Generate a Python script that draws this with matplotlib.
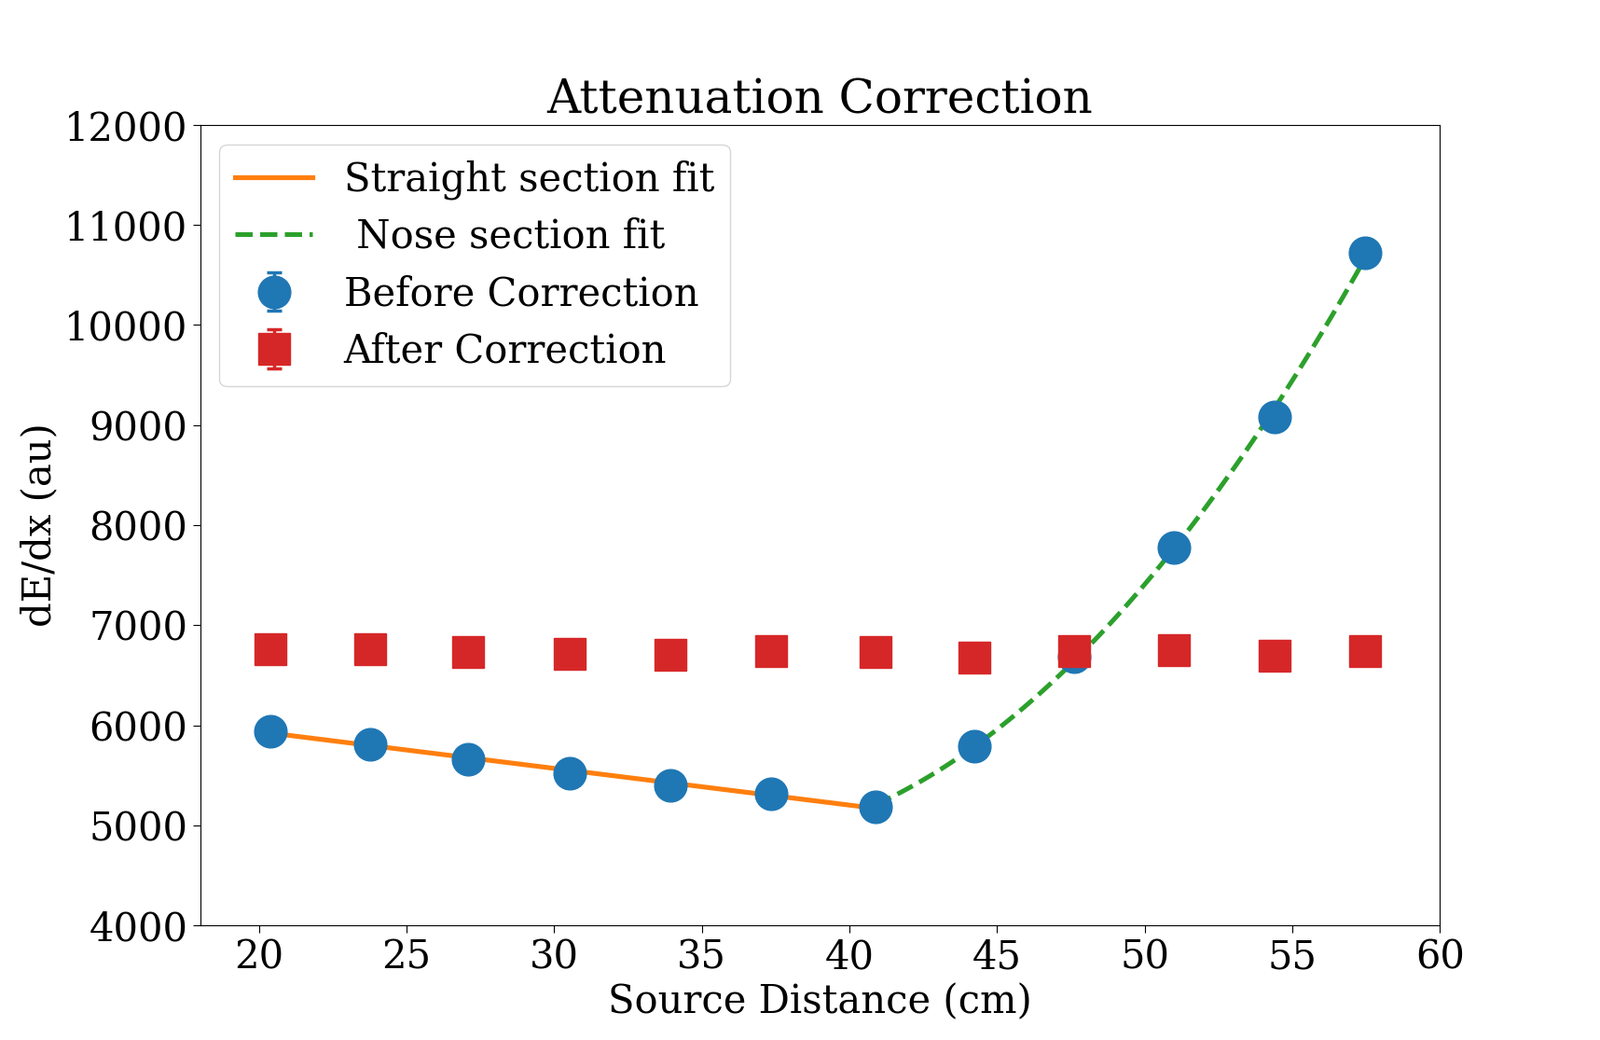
import numpy as np
import matplotlib
matplotlib.use("Agg")
import matplotlib.pyplot as plt

plt.rcParams['font.family'] = ['DejaVu Serif']

# Data
distance = [20.38, 23.77, 27.09, 30.52, 33.94, 37.34, 40.87, 44.22, 47.61, 51.00, 54.39, 57.47]
before = [5940, 5812, 5666, 5526, 5400, 5316, 5191, 5790, 6690, 7777, 9080, 10717]
before_err = [40, 40, 40, 40, 40, 40, 40, 40, 40, 40, 40, 40]
after = [6764, 6760, 6736, 6711, 6704, 6739, 6732, 6679, 6743, 6751, 6694, 6743]
after_err = [40, 40, 40, 40, 40, 40, 40, 40, 40, 40, 40, 40]
n_straight = 7  # first seven points belong to the straight section

x = np.array(distance)
yb = np.array(before)

# fits
ps = np.polyfit(x[:n_straight], yb[:n_straight], 1)
xs = np.linspace(x[0], x[n_straight - 1], 50)
pn = np.polyfit(x[n_straight - 1:], yb[n_straight - 1:], 2)
xn = np.linspace(x[n_straight - 1], x[-1], 100)

fig = plt.figure(figsize=(17.16, 11.15), dpi=100)
ax = fig.add_subplot(111)

ax.plot(xs, np.polyval(ps, xs), color='tab:orange', lw=3.7, label='Straight section fit')
ax.plot(xn, np.polyval(pn, xn), color='tab:green', lw=3.6, ls='--', label=' Nose section fit')
ax.errorbar(distance, before, yerr=before_err, fmt='o', color='tab:blue', ms=25,
            capsize=6, lw=2.5, capthick=2.5, label='Before Correction')
ax.errorbar(distance, after, yerr=after_err, fmt='s', color='tab:red', ms=25,
            capsize=6, lw=2.5, capthick=2.5, label='After Correction')

ax.set_xlim(18, 60)
ax.set_ylim(4000, 12000)
ax.set_xticks([20, 25, 30, 35, 40, 45, 50, 55, 60])
ax.set_yticks(range(4000, 12001, 1000))
ax.tick_params(labelsize=30, length=6)
ax.set_xlabel('Source Distance (cm)', fontsize=30)
ax.set_ylabel('dE/dx (au)', fontsize=30)
ax.set_title('Attenuation Correction', fontsize=36, pad=8.5)
ax.legend(loc='upper left', fontsize=30, labelspacing=0.46)

fig.subplots_adjust(left=0.125, right=0.9, top=0.88, bottom=0.11)
fig.savefig('out.png', dpi=100)
